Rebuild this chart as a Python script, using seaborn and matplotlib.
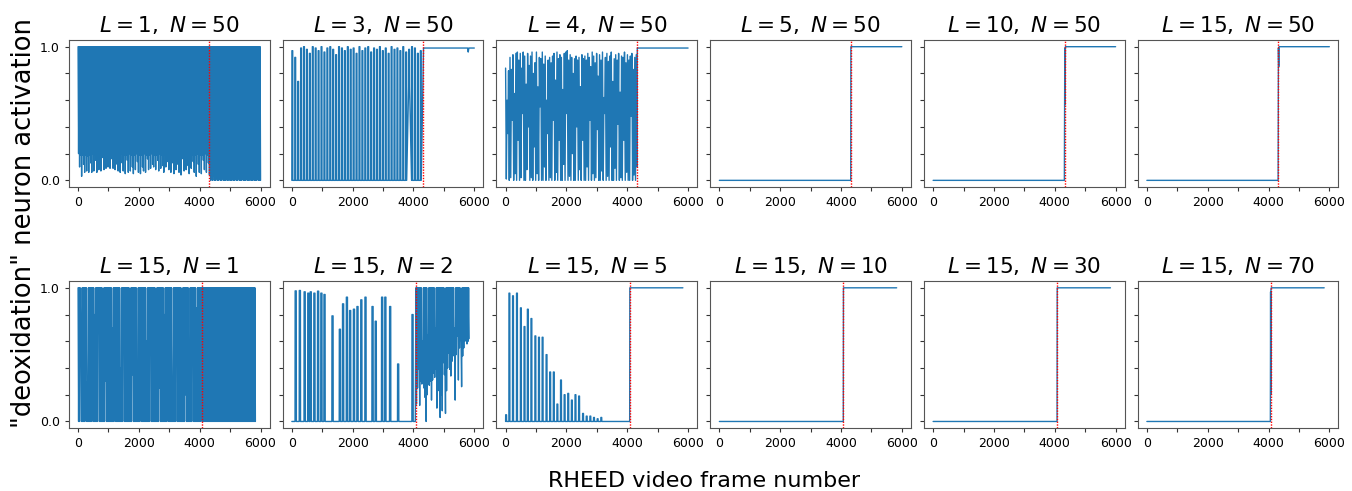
import numpy as np
import matplotlib
matplotlib.use("Agg")
import matplotlib.pyplot as plt
import seaborn as sns

# ---------------- data ----------------
titles = [r"$L=1,\ N=50$", r"$L=3,\ N=50$", r"$L=4,\ N=50$", r"$L=5,\ N=50$",
          r"$L=10,\ N=50$", r"$L=15,\ N=50$",
          r"$L=15,\ N=1$", r"$L=15,\ N=2$", r"$L=15,\ N=5$", r"$L=15,\ N=10$",
          r"$L=15,\ N=30$", r"$L=15,\ N=70$"]

top_transition = 4320      # red dotted line, top row
bottom_transition = 4080   # red dotted line, bottom row
top_end = 6000
bottom_end = 5830

xtick_values = [0, 1000, 2000, 3000, 4000, 5000, 6000]
xtick_labels = ["0", "", "2000", "", "4000", "", "6000"]
ytick_values = [0.0, 0.2, 0.4, 0.6, 0.8, 1.0]
ytick_labels = ["0.0", "", "", "", "", "1.0"]

# L=1, N=50 : dense oscillation, peaks at 1.0
p1_high = 1.0
p1_pre_lows = [0.2, 0.1, 0.19, 0.03, 0.19, 0.12, 0.06, 0.19, 0.07, 0.18, 0.06, 0.19, 0.13, 0.06,
               0.2, 0.07, 0.19, 0.15, 0.06, 0.19, 0.08, 0.2, 0.07, 0.19, 0.17, 0.08, 0.19, 0.09,
               0.2, 0.1, 0.19, 0.09, 0.19, 0.16, 0.09, 0.2, 0.08, 0.19, 0.12, 0.07, 0.19, 0.06,
               0.2, 0.13, 0.07, 0.19, 0.05, 0.19, 0.15, 0.06, 0.2, 0.07, 0.19, 0.1, 0.05, 0.19,
               0.08, 0.2, 0.14, 0.06, 0.19, 0.05, 0.19, 0.1, 0.07, 0.2, 0.06, 0.19, 0.16, 0.08,
               0.19, 0.09, 0.2, 0.12, 0.1, 0.19, 0.08, 0.19, 0.15, 0.07, 0.2, 0.09, 0.19, 0.11,
               0.06, 0.19, 0.1, 0.2, 0.14, 0.08, 0.19, 0.06, 0.19, 0.13, 0.05, 0.2, 0.08, 0.19,
               0.12, 0.06, 0.19, 0.04, 0.2, 0.16, 0.07, 0.19, 0.08, 0.19, 0.11, 0.05, 0.2, 0.09,
               0.19, 0.14, 0.06, 0.19, 0.03, 0.2, 0.12, 0.06, 0.19, 0.05, 0.19, 0.15, 0.08, 0.2,
               0.06, 0.19, 0.13, 0.04]
p1_post_lows = [0.05, 0.0, 0.01, 0.0, 0.03, 0.0, 0.0, 0.02, 0.0, 0.0, 0.01, 0.0, 0.0, 0.02,
                0.0, 0.0, 0.0, 0.04, 0.0, 0.0, 0.01, 0.0, 0.0, 0.0, 0.08, 0.0, 0.0, 0.01, 0.0,
                0.0, 0.02, 0.0, 0.0, 0.0, 0.01, 0.0, 0.0, 0.0, 0.03, 0.0, 0.0, 0.0, 0.01, 0.0,
                0.0, 0.0, 0.02, 0.0, 0.0, 0.0, 0.01, 0.0, 0.0, 0.0]

# L=3, N=50 : pulse train (one pulse per entry)
p2_highs = [0.97, 0.92, 0.74, 0.99, 1.0, 0.98, 0.95, 1.0, 0.99, 0.97, 1.0, 0.96, 0.99, 1.0,
            0.98, 0.94, 1.0, 0.99, 0.97, 1.0, 0.98, 0.99, 0.95, 1.0, 0.97, 0.99, 1.0, 0.96,
            0.99, 0.98, 1.0, 0.97, 0.99, 0.95, 1.0, 0.98, 0.99, 0.97, 1.0, 0.96, 0.98, 1.0,
            0.99, 0.95, 0.97]
p2_lows = [0.0, 0.0, 0.0, 0.0, 0.0, 0.0, 0.0, 0.0, 0.0, 0.0, 0.0, 0.0, 0.0, 0.0, 0.0, 0.0,
           0.0, 0.0, 0.0, 0.0, 0.0, 0.0, 0.0, 0.0, 0.0, 0.0, 0.0, 0.0, 0.0, 0.0, 0.0, 0.0,
           0.0, 0.0, 0.0, 0.0, 0.0, 0.0, 0.0, 0.0, 0.7, 0.0, 0.0, 0.0, 0.0]
p2_post_frames = [4330, 5700, 5780, 5800, 5820, 6000]
p2_post_values = [0.99, 0.99, 0.99, 0.96, 0.99, 0.99]

# L=4, N=50
p3_highs = [0.84, 0.6, 0.82, 0.92, 0.83, 0.94, 0.65, 0.95, 0.96, 0.9, 0.95, 0.84, 0.96, 0.93,
            0.72, 0.95, 0.86, 0.93, 0.96, 0.8, 0.88, 0.96, 0.7, 0.92, 0.91, 0.96, 0.87, 0.93,
            0.6, 0.9, 0.92, 0.88, 0.93, 0.95, 0.75, 0.96, 0.91, 0.94, 0.92, 0.68, 0.95, 0.96,
            0.97, 0.9, 0.94, 0.92, 0.8, 0.91, 0.93, 0.9, 0.92, 0.7, 0.94, 0.91, 0.93, 0.9,
            0.95, 0.92, 0.85, 0.96, 0.93, 0.88, 0.95, 0.78, 0.94, 0.9, 0.96, 0.62, 0.92, 0.95,
            0.89, 0.93, 0.96, 0.74, 0.91, 0.94, 0.9, 0.95, 0.66, 0.93, 0.92, 0.96, 0.88, 0.94,
            0.9, 0.93, 0.95, 0.83, 0.92, 0.94]
p3_lows = [0.01, 0.35, 0.0, 0.02, 0.45, 0.0, 0.05, 0.0, 0.3, 0.0, 0.02, 0.5, 0.0, 0.0, 0.08,
           0.4, 0.0, 0.02, 0.0, 0.25, 0.0, 0.05, 0.0, 0.55, 0.0, 0.0, 0.1, 0.0, 0.35, 0.0,
           0.02, 0.0, 0.45, 0.0, 0.06, 0.0, 0.3, 0.0, 0.0, 0.12, 0.0, 0.5, 0.0, 0.03, 0.0,
           0.2, 0.0, 0.0, 0.4, 0.0, 0.08, 0.0, 0.3, 0.0, 0.0, 0.1, 0.0, 0.45, 0.0, 0.05,
           0.0, 0.02, 0.38, 0.0, 0.0, 0.07, 0.0, 0.5, 0.0, 0.03, 0.0, 0.25, 0.0, 0.0, 0.09,
           0.0, 0.42, 0.0, 0.02, 0.0, 0.3, 0.0, 0.06, 0.0, 0.0, 0.48, 0.0, 0.04, 0.0, 0.1]
p3_post_frames = [4330, 6000]
p3_post_values = [0.99, 0.99]

# Step-like panels (frames, values)
p4_frames = [0, 4320, 4325, 6000]
p4_values = [0.0, 0.0, 1.0, 1.0]
p5_frames = [0, 4315, 4330, 4340, 4350, 4360, 6000]
p5_values = [0.0, 0.0, 0.99, 0.57, 1.0, 1.0, 1.0]
p6_frames = [0, 4315, 4325, 4335, 4345, 6000]
p6_values = [0.0, 0.0, 0.99, 0.85, 1.0, 1.0]

# L=15, N=1 : dense 0/1 oscillation
p7_pre_highs = [1.0, 1.0, 1.0, 0.6, 1.0, 1.0, 1.0, 1.0, 1.0, 0.3, 1.0, 1.0, 1.0, 1.0, 1.0,
                1.0, 0.8, 1.0, 1.0, 1.0, 1.0, 1.0, 1.0, 1.0, 0.5, 1.0, 1.0, 1.0, 1.0, 1.0,
                1.0, 1.0, 1.0, 0.7, 1.0, 1.0, 1.0, 1.0, 1.0, 1.0, 1.0, 0.4, 1.0, 1.0, 1.0,
                1.0, 1.0, 1.0, 1.0, 1.0, 0.9, 1.0, 1.0, 1.0, 1.0, 1.0, 1.0, 0.2, 1.0, 1.0,
                1.0, 1.0, 1.0, 1.0, 1.0, 1.0, 0.6, 1.0, 1.0, 1.0, 1.0, 1.0, 1.0, 1.0, 1.0,
                0.5, 1.0, 1.0, 1.0, 1.0, 1.0, 1.0, 1.0, 0.8, 1.0, 1.0, 1.0, 1.0, 1.0, 1.0,
                1.0, 0.3, 1.0, 1.0, 1.0, 1.0, 1.0, 1.0, 1.0, 1.0, 0.7, 1.0, 1.0, 1.0, 1.0,
                1.0, 1.0, 0.5, 1.0, 1.0, 1.0, 1.0, 1.0, 1.0, 0.85, 1.0, 1.0, 1.0, 1.0, 1.0]
p7_pre_lows = [0.0, 0.0, 0.55, 0.0, 0.0, 0.0, 0.0, 0.7, 0.0, 0.0, 0.0, 0.0, 0.0, 0.4, 0.0,
               0.0, 0.0, 0.0, 0.0, 0.8, 0.0, 0.0, 0.0, 0.0, 0.0, 0.0, 0.3, 0.0, 0.0, 0.0,
               0.0, 0.0, 0.0, 0.0, 0.0, 0.9, 0.0, 0.0, 0.0, 0.0, 0.0, 0.0, 0.0, 0.6, 0.0,
               0.0, 0.0, 0.0, 0.0, 0.0, 0.0, 0.0, 0.35, 0.0, 0.0, 0.0, 0.0, 0.0, 0.0, 0.0,
               0.75, 0.0, 0.0, 0.0, 0.0, 0.0, 0.0, 0.0, 0.0, 0.5, 0.0, 0.0, 0.0, 0.0, 0.0,
               0.0, 0.0, 0.0, 0.25, 0.0, 0.0, 0.0, 0.0, 0.0, 0.0, 0.0, 0.65, 0.0, 0.0, 0.0,
               0.0, 0.0, 0.0, 0.0, 0.45, 0.0, 0.0, 0.0, 0.0, 0.0, 0.0, 0.0, 0.0, 0.2, 0.0,
               0.0, 0.0, 0.0, 0.0, 0.0, 0.55, 0.0, 0.0, 0.0, 0.0, 0.0, 0.0, 0.0, 0.3, 0.0]
p7_post_high = 1.0
p7_post_lows = [0.0, 0.0, 0.0, 0.0, 0.0, 0.0, 0.0, 0.0, 0.0, 0.0, 0.0, 0.0, 0.0, 0.0, 0.0,
                0.0, 0.0, 0.0, 0.0, 0.0, 0.0, 0.0, 0.0, 0.0, 0.0, 0.0, 0.0, 0.0, 0.0, 0.0,
                0.0, 0.0, 0.0, 0.0, 0.0, 0.0, 0.0, 0.0, 0.0, 0.0, 0.0, 0.0, 0.0, 0.0, 0.0,
                0.0, 0.0, 0.0, 0.0, 0.0, 0.0, 0.0, 0.0, 0.0, 0.0]

# L=15, N=2 : isolated spikes, then dense oscillation
p8_spike_frames = [105, 242, 400, 520, 600, 720, 842, 950, 1053, 1316, 1558, 1663, 1789,
                   1895, 2021, 2137, 2263, 2400, 2632, 2737, 2947, 3053, 3211, 3474, 3947]
p8_spike_peaks = [0.977, 0.98, 0.97, 0.96, 0.97, 0.96, 0.975, 0.96, 0.95, 0.79, 0.69, 0.88,
                  0.93, 0.83, 0.84, 0.86, 0.91, 0.93, 0.86, 0.75, 0.93, 0.93, 0.86, 0.43, 0.8]
p8_post_highs = [1.0, 1.0, 1.0, 1.0, 1.0, 1.0, 0.6, 1.0, 1.0, 1.0, 1.0, 0.65, 1.0, 1.0,
                 1.0, 1.0, 1.0, 1.0, 0.7, 1.0, 1.0, 1.0, 1.0, 1.0, 1.0, 1.0, 1.0, 0.5, 1.0,
                 1.0, 1.0, 1.0, 1.0, 1.0, 1.0, 1.0, 0.7, 1.0, 1.0, 1.0, 1.0, 1.0, 0.6, 1.0,
                 1.0, 1.0, 1.0, 1.0, 1.0, 1.0]
p8_post_lows = [0.13, 0.25, 0.39, 0.12, 0.3, 0.28, 0.31, 0.25, 0.18, 0.0, 0.2, 0.28, 0.27,
                0.3, 0.16, 0.31, 0.36, 0.33, 0.39, 0.1, 0.3, 0.23, 0.03, 0.2, 0.08, 0.44,
                0.35, 0.06, 0.23, 0.4, 0.51, 0.39, 0.34, 0.45, 0.54, 0.49, 0.16, 0.5, 0.64,
                0.31, 0.55, 0.61, 0.26, 0.49, 0.55, 0.6, 0.61, 0.58, 0.6, 0.62]

# L=15, N=5 : decaying spikes
p9_spike_frames = [0, 108, 227, 357, 486, 605, 714, 832, 962, 1081, 1200, 1330, 1449, 1568,
                   1686, 1805, 1924, 2043, 2162, 2281, 2400, 2530, 2650, 2770, 2890, 3010,
                   3130]
p9_spike_peaks = [0.05, 0.96, 0.94, 0.96, 0.85, 0.71, 0.84, 0.77, 0.64, 0.63, 0.63, 0.5,
                  0.37, 0.37, 0.13, 0.31, 0.2, 0.21, 0.16, 0.2, 0.19, 0.06, 0.04, 0.04, 0.03,
                  0.02, 0.03]

p10_frames = [0, 4075, 4080, 5830]
p10_values = [0.0, 0.0, 1.0, 1.0]
p11_frames = [0, 4075, 4080, 5830]
p11_values = [0.0, 0.0, 1.0, 1.0]
p12_frames = [0, 4060, 4068, 4074, 4080, 4090, 5830]
p12_values = [0.0, 0.0, 0.97, 0.2, 0.99, 1.0, 1.0]


# ---------------- helpers to assemble sequences ----------------
def zigzag(start, end, highs, lows):
    highs = np.broadcast_to(np.asarray(highs, float), (len(lows),))
    n = len(lows)
    xs = np.linspace(start, end, 2 * n)
    ys = np.empty(2 * n)
    ys[0::2] = highs
    ys[1::2] = lows
    return xs, ys


def pulses(start, end, highs, lows, duty=0.3):
    n = len(highs)
    period = (end - start) / n
    xs, ys = [], []
    for k in range(n):
        x0 = start + k * period
        xs += [x0, x0 + 0.03 * period, x0 + duty * period, x0 + (duty + 0.03) * period]
        ys += [lows[k], highs[k], highs[k], lows[k]]
    return np.array(xs), np.array(ys)


def spikes(start, end, frames, peaks, width=35, base=0.0):
    xs, ys = [start], [base]
    for f, p in zip(frames, peaks):
        xs += [f, f + width * 0.1, f + width, f + width * 1.1]
        ys += [base, p, p, base]
    xs.append(end)
    ys.append(base)
    return np.array(xs, float), np.array(ys, float)


def cat(*parts):
    return (np.concatenate([np.asarray(p[0], float) for p in parts]),
            np.concatenate([np.asarray(p[1], float) for p in parts]))


series = [
    cat(zigzag(0, top_transition, p1_high, p1_pre_lows),
        zigzag(top_transition, top_end, p1_high, p1_post_lows)),
    cat(pulses(0, top_transition, p2_highs, p2_lows), (p2_post_frames, p2_post_values)),
    cat(zigzag(0, top_transition, p3_highs, p3_lows), (p3_post_frames, p3_post_values)),
    cat((p4_frames, p4_values)),
    cat((p5_frames, p5_values)),
    cat((p6_frames, p6_values)),
    cat(zigzag(0, bottom_transition, p7_pre_highs, p7_pre_lows),
        zigzag(bottom_transition, bottom_end, p7_post_high, p7_post_lows)),
    cat(spikes(0, bottom_transition - 20, p8_spike_frames, p8_spike_peaks, width=40),
        zigzag(bottom_transition, bottom_end, p8_post_highs, p8_post_lows)),
    cat(spikes(0, bottom_transition, p9_spike_frames, p9_spike_peaks, width=30),
        ([bottom_transition + 5, bottom_end], [1.0, 1.0])),
    cat((p10_frames, p10_values)),
    cat((p11_frames, p11_values)),
    cat((p12_frames, p12_values)),
]

# ---------------- figure ----------------
sns.set_theme(style="ticks")
plt.rcParams.update({
    "font.family": ["DejaVu Sans"],
    "text.color": "black",
    "axes.edgecolor": "#555555",
    "axes.linewidth": 0.8,
    "xtick.color": "#333333",
    "ytick.color": "#333333",
    "xtick.labelcolor": "black",
    "ytick.labelcolor": "black",
    "xtick.major.size": 3,
    "ytick.major.size": 3,
    "xtick.major.width": 0.8,
    "ytick.major.width": 0.8,
    "xtick.labelsize": 9,
    "ytick.labelsize": 9,
    "mathtext.fontset": "dejavusans",
})

fig, axes = plt.subplots(2, 6, figsize=(13.52, 4.91), dpi=100, sharey=True)
fig.subplots_adjust(left=0.051, right=0.990, top=0.9185, bottom=0.128,
                    wspace=0.065, hspace=0.64)

for i, ax in enumerate(axes.flat):
    xs, ys = series[i]
    sns.lineplot(x=xs, y=ys, ax=ax, estimator=None, sort=False,
                 color="#1f77b4", linewidth=1.0)
    trans = top_transition if i < 6 else bottom_transition
    ax.axvline(trans, color="red", linestyle=(0, (1, 1)), linewidth=1.0)
    ax.set_title(titles[i], fontsize=15.5, color="black")
    ax.set_xticks(xtick_values)
    ax.set_xticklabels(xtick_labels)
    ax.set_yticks(ytick_values)
    ax.set_yticklabels(ytick_labels)
    ax.set_ylim(-0.05, 1.05)
    ax.set_xlim(-300, 6300)
    ax.set_xlabel("")
    ax.set_ylabel("")

fig.text(0.521, 0.02, "RHEED video frame number", ha="center", va="center", fontsize=16)
fig.text(0.018, 0.545, '"deoxidation" neuron activation', ha="center", va="center",
         rotation=90, fontsize=18.5)

fig.savefig("out.png", dpi=100)
